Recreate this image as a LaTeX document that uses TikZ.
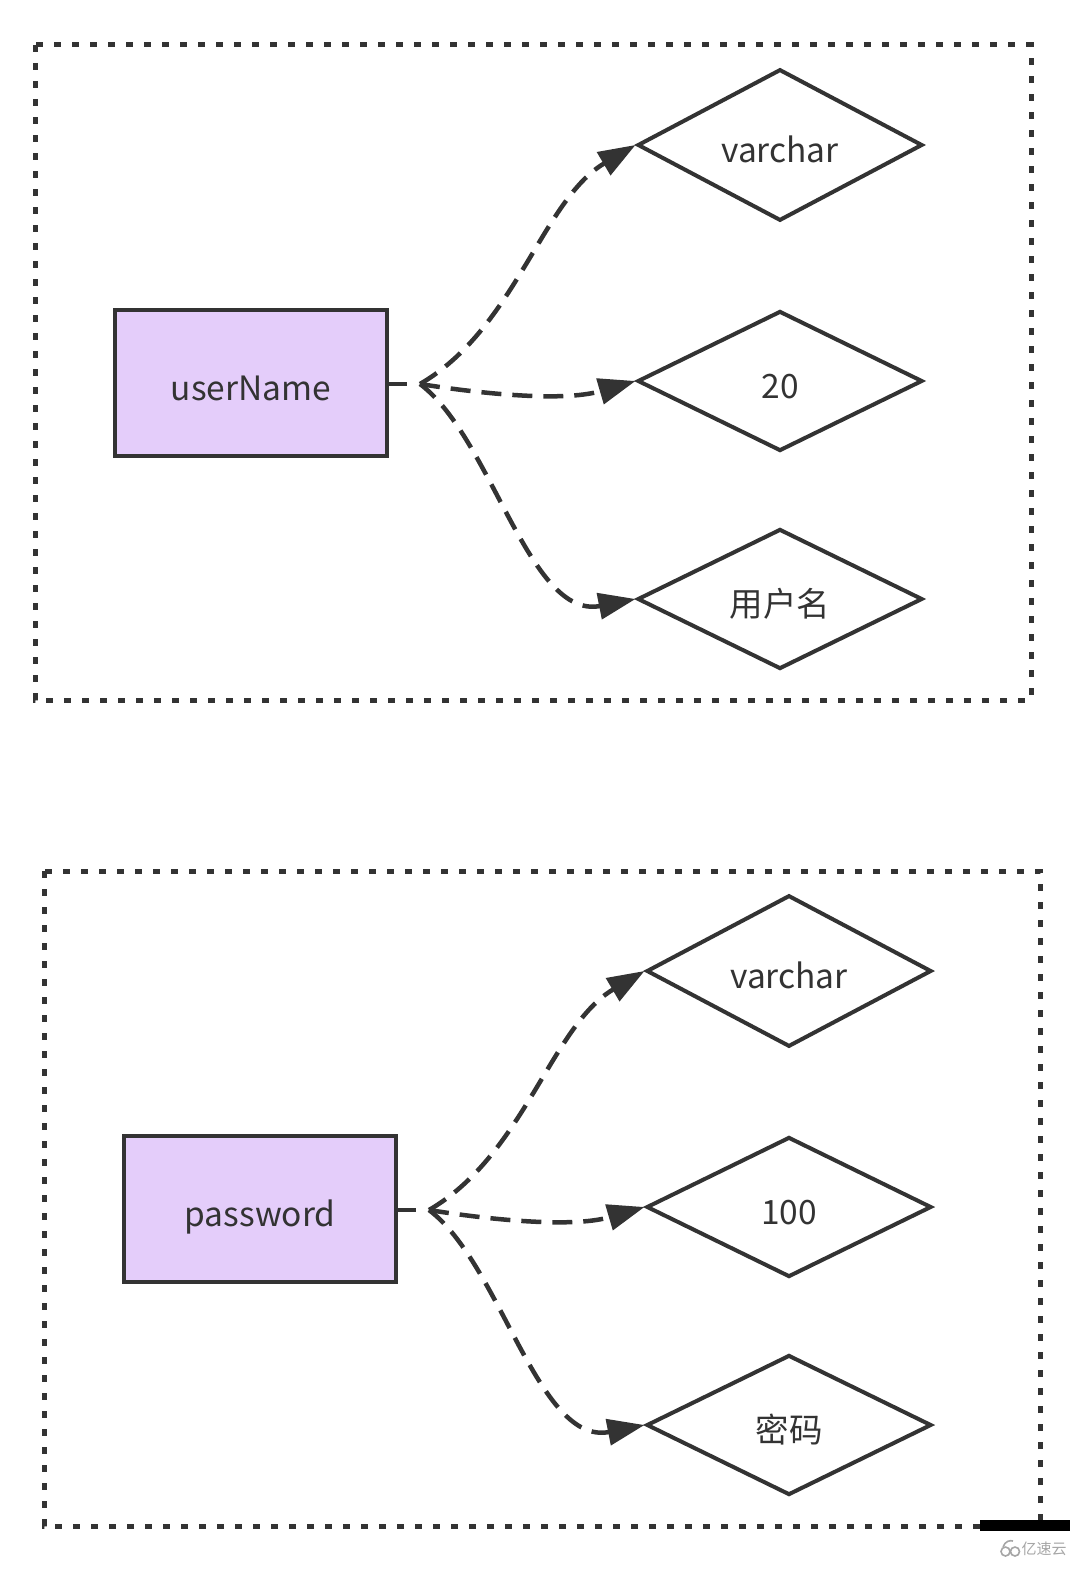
\documentclass[tikz,border=0pt]{standalone}
\usepackage{fontspec}
\setmainfont{Noto Sans CJK SC}
\usetikzlibrary{shapes.geometric,arrows.meta}
\definecolor{ink}{HTML}{333333}
\definecolor{lilac}{RGB}{228,205,250}
\tikzset{
  frame/.style={draw=ink, line width=5bp, dash pattern=on 7bp off 11bp},
  entity/.style={draw=ink, fill=lilac, line width=4bp, minimum width=272bp, minimum height=146bp, inner sep=0pt, text=ink, font=\fontsize{33.5bp}{38bp}\selectfont, text height=34bp, text depth=0pt},
  attr/.style={diamond, draw=ink, line width=4bp, minimum width=285bp, minimum height=140bp, inner sep=0pt, text=ink, font=\fontsize{33.5bp}{38bp}\selectfont, text height=34bp, text depth=0pt},
  stub/.style={draw=ink, line width=4.5bp},
  link/.style={draw=ink, line width=4.5bp, dash pattern=on 20bp off 11bp, -{Triangle[length=37bp,width=26bp]}},
}
\begin{document}
\begin{tikzpicture}[x=1bp,y=-1bp]
\useasboundingbox (0,0) rectangle (1080,1575);
% ---- top section ----
\draw[frame] (35,45) rectangle (1031,700);
\node[entity] (ur) at (251,383) {userName};
\node[attr] (u1) at (780,145) {varchar};
\node[attr] (u2) at (780,381) {20};
\node[attr] (u3) at (780,599) {用户名};
\coordinate (us) at (407,384);
\coordinate (uf) at (420,384);
\draw[stub] (ur.east |- us) -- (us);
\draw[link] (uf) .. controls (515,329) and (542,200) .. (u1.west);
\draw[link] (uf) .. controls (470,392) and (560,403) .. (u2.west);
\draw[link] (uf) .. controls (492,438) and (529,620) .. (u3.west);
% ---- bottom section ----
\begin{scope}[shift={(9,826)}]
\draw[frame] (35,45) rectangle (1031,700);
\node[entity] (pr) at (251,383) {password};
\node[attr] (p1) at (780,145) {varchar};
\node[attr] (p2) at (780,381) {100};
\node[attr] (p3) at (780,599) {密码};
\coordinate (ps) at (407,384);
\coordinate (pf) at (420,384);
\draw[stub] (pr.east |- ps) -- (ps);
\draw[link] (pf) .. controls (515,329) and (542,200) .. (p1.west);
\draw[link] (pf) .. controls (470,392) and (560,403) .. (p2.west);
\draw[link] (pf) .. controls (492,438) and (529,620) .. (p3.west);
\end{scope}
% ---- watermark ----
\fill[black] (980,1520) rectangle (1070,1531);
\node[text=gray!70, font=\fontsize{15bp}{18bp}\selectfont, inner sep=0pt] (wm) at (1044,1549) {亿速云};
\draw[gray!70, line width=1.6bp] (1005.5,1551.5) circle (4.5bp) (1015,1551.5) circle (4.5bp);
\draw[gray!70, line width=1.6bp] (1003,1547) .. controls (1005,1541) and (1010,1540) .. (1013,1541);
\end{tikzpicture}
\end{document}
